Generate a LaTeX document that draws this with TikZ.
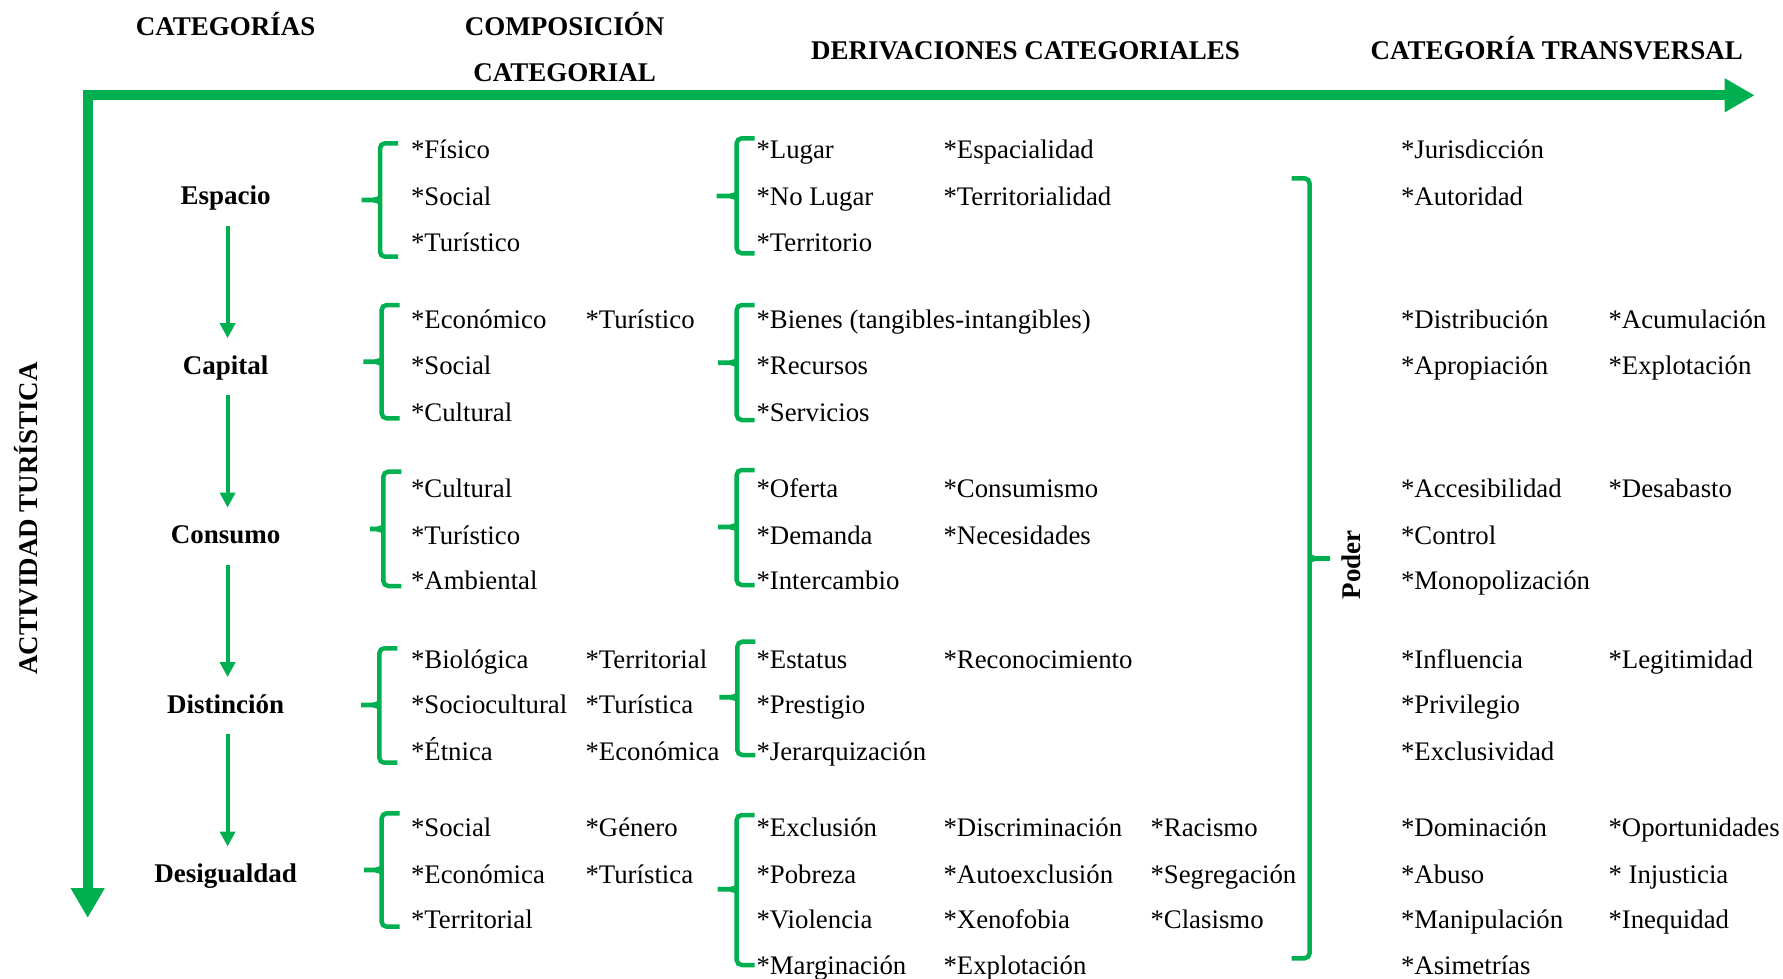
\documentclass[tikz,border=0pt]{standalone}
\usepackage{fontspec}
\setmainfont{Liberation Serif}
\usetikzlibrary{arrows.meta}
\definecolor{verde}{RGB}{0,176,80}

% one list entry: name, x, baseline y, text
\newcommand\cel[4]{\node[item] (#1) at (#2,#3) {#4};}
% curly brace: x of spine, top, bottom, middle, x of tip, side of the arms (1 right, -1 left)
\newcommand\llave[6]{%
  \draw[brace] ({#1+18*(#6)},#2) -- (#1,#2) -- (#1,#3) -- ({#1+18*(#6)},#3);
  \fill[verde] ({#1},{#4-11}) .. controls ({#1},{#4-4}) .. ({#1-7*(#6)},{#4-2.4})
    -- (#5,{#4-2.4}) -- (#5,{#4+2.4}) -- ({#1-7*(#6)},{#4+2.4})
    .. controls ({#1},{#4+4}) .. ({#1},{#4+11}) -- cycle;}

\begin{document}
\begin{tikzpicture}[x=1pt,y=-1pt,
  every node/.style={inner sep=0pt,outer sep=0pt},
  item/.style={anchor=base west,yshift=-1.2pt,font=\fontsize{26.8}{30}\selectfont},
  cat/.style={anchor=base,yshift=-1.2pt,font=\fontsize{27}{30}\selectfont\bfseries},
  head/.style={anchor=base,font=\fontsize{27}{30}\selectfont\bfseries},
  axis/.style={draw=verde,line width=10pt,line join=miter,
    {Triangle[width=32pt,length=30pt]}-{Triangle[width=32pt,length=30pt]}},
  flow/.style={draw=verde,line width=4pt,-{Triangle[width=15pt,length=15pt]}},
  brace/.style={draw=verde,line width=4.5pt,rounded corners=5pt},
]
\useasboundingbox (0,0) rectangle (1783,979);

% axes
\coordinate (corner) at (87.7,95.3);
\coordinate (xend) at (1754.6,95.3);
\coordinate (yend) at (87.7,918);
\draw[axis] (yend) -- (corner) -- (xend);

% column heads
\node[head] (h1) at (225.6,36) {CATEGORÍAS};
\node[head] (h2) at (564.6,36) {COMPOSICIÓN};
\node[head] (h2b) at (564.6,82) {CATEGORIAL};
\node[head] (h3) at (1025.6,59.3) {DERIVACIONES CATEGORIALES};
\node[head] (h4) at (1556.7,59.3) {CATEGORÍA TRANSVERSAL};
\node[head,rotate=90] (act) at (37.2,518.5) {ACTIVIDAD TURÍSTICA};

% categories
\node[cat] (esp) at (225.6,203.6) {Espacio};
\node[cat] (cap) at (225.6,373) {Capital};
\node[cat] (con) at (225.6,542.4) {Consumo};
\node[cat] (dis) at (225.6,711.9) {Distinción};
\node[cat] (des) at (225.6,881.3) {Desigualdad};

\draw[flow] ([xshift=2pt,yshift=-21pt]esp.base) -- ([xshift=2pt,yshift=36pt]cap.base);
\draw[flow] ([xshift=2pt,yshift=-21pt]cap.base) -- ([xshift=2pt,yshift=36pt]con.base);
\draw[flow] ([xshift=2pt,yshift=-21pt]con.base) -- ([xshift=2pt,yshift=36pt]dis.base);
\draw[flow] ([xshift=2pt,yshift=-21pt]dis.base) -- ([xshift=2pt,yshift=36pt]des.base);

\def\cA{411}\def\cB{585.5}\def\dA{756.5}\def\dB{943.5}\def\dC{1150.5}
\def\tA{1401}\def\tB{1608.5}

% Espacio
\llave{380}{143.3}{256.7}{200}{361.7}{1}
\llave{736.7}{138.3}{253.3}{196}{716.7}{1}
\cel{e-c1}{\cA}{157.5}{*Físico}
\cel{e-c2}{\cA}{204.1}{*Social}
\cel{e-c3}{\cA}{250.7}{*Turístico}
\cel{e-d1}{\dA}{157.5}{*Lugar}
\cel{e-d2}{\dA}{204.1}{*No Lugar}
\cel{e-d3}{\dA}{250.7}{*Territorio}
\cel{e-d4}{\dB}{157.5}{*Espacialidad}
\cel{e-d5}{\dB}{204.1}{*Territorialidad}
\cel{e-t1}{\tA}{157.5}{*Jurisdicción}
\cel{e-t2}{\tA}{204.1}{*Autoridad}

% Capital
\llave{381.7}{305}{418.4}{361.7}{363.3}{1}
\llave{736.7}{305}{420}{362.7}{718}{1}
\cel{k-c1}{\cA}{326.9}{*Económico}
\cel{k-c2}{\cA}{373.5}{*Social}
\cel{k-c3}{\cA}{420.1}{*Cultural}
\cel{k-c4}{\cB}{326.9}{*Turístico}
\cel{k-d1}{\dA}{326.9}{*Bienes (tangibles-intangibles)}
\cel{k-d2}{\dA}{373.5}{*Recursos}
\cel{k-d3}{\dA}{420.1}{*Servicios}
\cel{k-t1}{\tA}{326.9}{*Distribución}
\cel{k-t2}{\tA}{373.5}{*Apropiación}
\cel{k-t3}{\tB}{326.9}{*Acumulación}
\cel{k-t4}{\tB}{373.5}{*Explotación}

% Consumo
\llave{383.3}{471.7}{586}{529}{370}{1}
\llave{736.7}{470}{585}{527}{718}{1}
\cel{m-c1}{\cA}{496.3}{*Cultural}
\cel{m-c2}{\cA}{542.9}{*Turístico}
\cel{m-c3}{\cA}{588.4}{*Ambiental}
\cel{m-d1}{\dA}{496.3}{*Oferta}
\cel{m-d2}{\dA}{542.9}{*Demanda}
\cel{m-d3}{\dA}{588.4}{*Intercambio}
\cel{m-d4}{\dB}{496.3}{*Consumismo}
\cel{m-d5}{\dB}{542.9}{*Necesidades}
\cel{m-t1}{\tA}{496.3}{*Accesibilidad}
\cel{m-t2}{\tA}{542.9}{*Control}
\cel{m-t3}{\tA}{588.4}{*Monopolización}
\cel{m-t4}{\tB}{496.3}{*Desabasto}

% Distinción
\llave{379.3}{648.3}{762.7}{705}{361}{1}
\llave{737.3}{641.7}{755}{697.3}{719.3}{1}
\cel{s-c1}{\cA}{666.9}{*Biológica}
\cel{s-c2}{\cA}{712.4}{*Sociocultural}
\cel{s-c3}{\cA}{759}{*Étnica}
\cel{s-c4}{\cB}{666.9}{*Territorial}
\cel{s-c5}{\cB}{712.4}{*Turística}
\cel{s-c6}{\cB}{759}{*Económica}
\cel{s-d1}{\dA}{666.9}{*Estatus}
\cel{s-d2}{\dA}{712.4}{*Prestigio}
\cel{s-d3}{\dA}{759}{*Jerarquización}
\cel{s-d4}{\dB}{666.9}{*Reconocimiento}
\cel{s-t1}{\tA}{666.9}{*Influencia}
\cel{s-t2}{\tA}{712.4}{*Privilegio}
\cel{s-t3}{\tA}{759}{*Exclusividad}
\cel{s-t4}{\tB}{666.9}{*Legitimidad}

% Desigualdad
\llave{381.7}{813.3}{926.7}{870}{364}{1}
\llave{736.7}{815}{965}{889.3}{717.7}{1}
\cel{g-c1}{\cA}{835.2}{*Social}
\cel{g-c2}{\cA}{881.8}{*Económica}
\cel{g-c3}{\cA}{927.3}{*Territorial}
\cel{g-c4}{\cB}{835.2}{*Género}
\cel{g-c5}{\cB}{881.8}{*Turística}
\cel{g-d1}{\dA}{835.2}{*Exclusión}
\cel{g-d2}{\dA}{881.8}{*Pobreza}
\cel{g-d3}{\dA}{927.3}{*Violencia}
\cel{g-d4}{\dA}{972.8}{*Marginación}
\cel{g-d5}{\dB}{835.2}{*Discriminación}
\cel{g-d6}{\dB}{881.8}{*Autoexclusión}
\cel{g-d7}{\dB}{927.3}{*Xenofobia}
\cel{g-d8}{\dB}{972.8}{*Explotación}
\cel{g-d9}{\dC}{835.2}{*Racismo}
\cel{g-d10}{\dC}{881.8}{*Segregación}
\cel{g-d11}{\dC}{927.3}{*Clasismo}
\cel{g-t1}{\tA}{835.2}{*Dominación}
\cel{g-t2}{\tA}{881.8}{*Abuso}
\cel{g-t3}{\tA}{927.3}{*Manipulación}
\cel{g-t4}{\tA}{972.8}{*Asimetrías}
\cel{g-t5}{\tB}{835.2}{*Oportunidades}
\cel{g-t6}{\tB}{881.8}{* Injusticia}
\cel{g-t7}{\tB}{927.3}{*Inequidad}

% transversal category
\llave{1309.5}{178.3}{958.3}{558.5}{1330}{-1}
\node[head,rotate=90] (poder) at (1360,565) {Poder};
\end{tikzpicture}
\end{document}
